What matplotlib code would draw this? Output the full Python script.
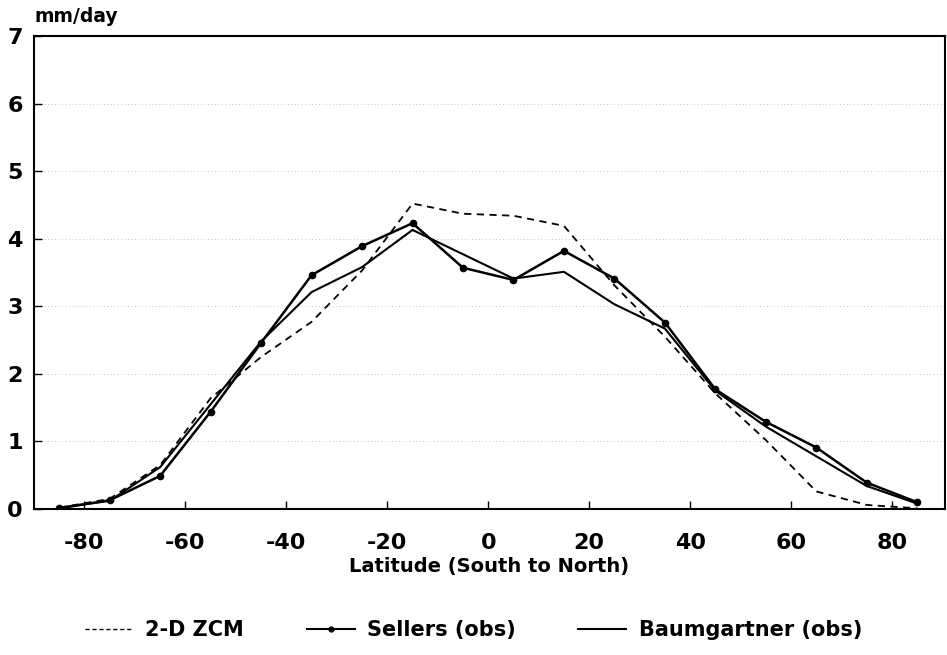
import matplotlib
matplotlib.use("Agg")
import matplotlib.pyplot as plt
from matplotlib.lines import Line2D

plt.rcParams['font.family'] = ['DejaVu Sans']
plt.rcParams['font.weight'] = 'bold'
plt.rcParams['axes.unicode_minus'] = False

latitude = [-85, -75, -65, -55, -45, -35, -25, -15, -5, 5, 15, 25, 35, 45, 55, 65, 75, 85]
zcm_2d = [0.02, 0.15, 0.65, 1.64, 2.25, 2.77, 3.53, 4.52, 4.37, 4.34, 4.19, 3.31, 2.55, 1.71, 1.02, 0.26, 0.06, 0.01]
sellers = [0.01, 0.13, 0.49, 1.44, 2.46, 3.46, 3.89, 4.23, 3.57, 3.39, 3.82, 3.41, 2.76, 1.77, 1.29, 0.91, 0.39, 0.10]
baumgartner = [0.02, 0.12, 0.62, 1.55, 2.48, 3.21, 3.58, 4.13, 3.77, 3.41, 3.51, 3.03, 2.67, 1.75, 1.22, 0.78, 0.34, 0.08]

x_ticks = [-80, -60, -40, -20, 0, 20, 40, 60, 80]
y_ticks = [0, 1, 2, 3, 4, 5, 6, 7]

fig = plt.figure(figsize=(9.47, 6.55), dpi=100)
ax = fig.add_axes([34/947, 1 - 509/655, 911/947, (509 - 36)/655])

ax.plot(latitude, zcm_2d, color='black', lw=1.3, linestyle=(0, (4, 3)))
ax.plot(latitude, sellers, color='black', lw=1.8, marker='o', markersize=4.5)
ax.plot(latitude, baumgartner, color='black', lw=1.5)

ax.set_xlim(-90, 90.5)
ax.set_ylim(0, 7)
ax.set_xticks(x_ticks)
ax.set_yticks(y_ticks)
ax.tick_params(direction='in', length=6, width=1.0, labelsize=16)
ax.tick_params(axis='x', pad=17)
ax.tick_params(axis='y', pad=8)
for lab in ax.get_xticklabels() + ax.get_yticklabels():
    lab.set_fontweight('bold')

for v in y_ticks[1:-1]:
    ax.axhline(v, color='0.55', lw=0.5, linestyle=(0, (1, 4)), zorder=0)

for s in ax.spines.values():
    s.set_linewidth(1.5)

ax.set_xlabel('Latitude (South to North)', fontsize=14, fontweight='bold', labelpad=3)
fig.text(34/947, 1 - 17/655, 'mm/day', fontsize=13.5, fontweight='bold', ha='left', va='center')

handles = [
    Line2D([], [], color='black', lw=1.0, linestyle=(0, (3, 2))),
    Line2D([], [], color='black', lw=1.5, marker='o', markersize=3.5, markevery=[1]),
    Line2D([], [], color='black', lw=1.5),
]
fig.legend(handles, ['2-D ZCM', 'Sellers (obs)', 'Baumgartner (obs)'],
           loc='center', bbox_to_anchor=(0.5, 1 - 630/655), ncol=3, frameon=False,
           handlelength=2.3, handletextpad=0.6, columnspacing=3.0,
           prop={'weight': 'bold', 'size': 15})

fig.savefig('out.png', dpi=100)
